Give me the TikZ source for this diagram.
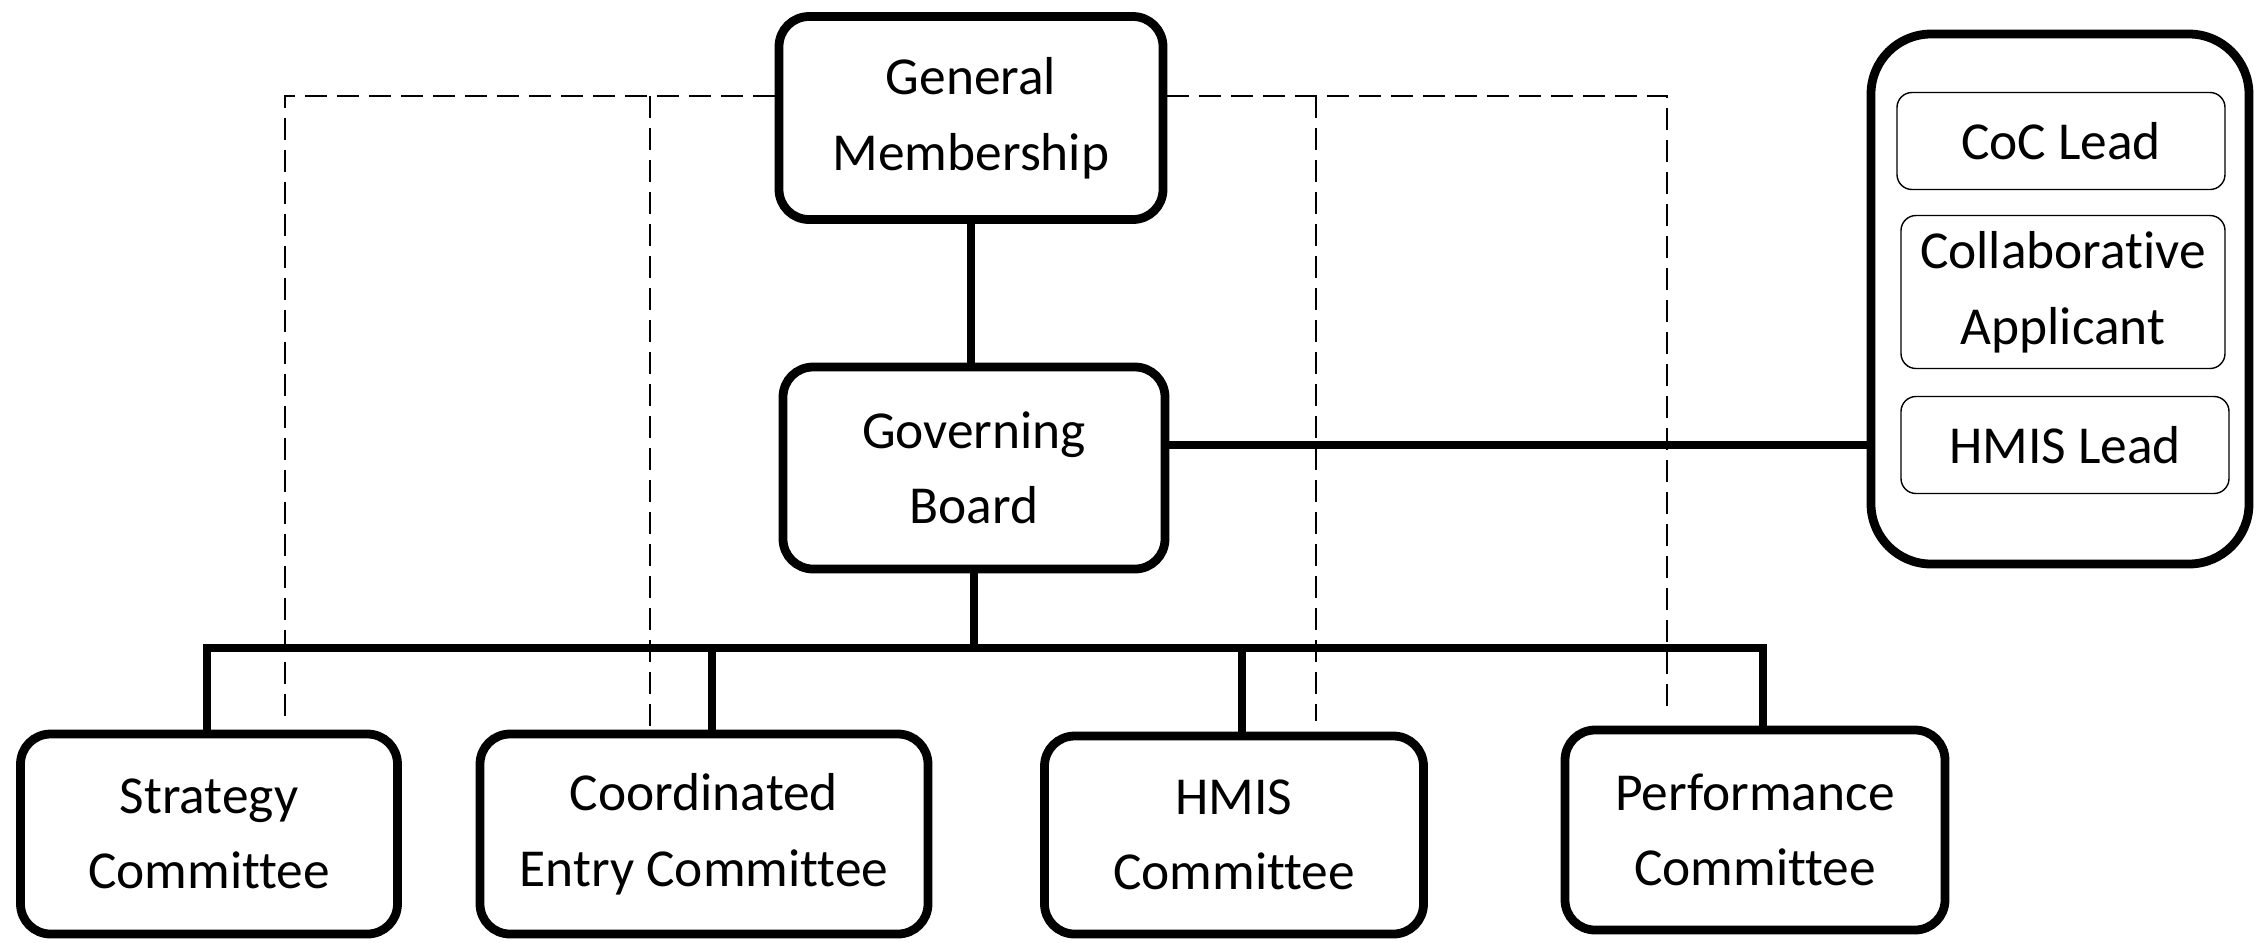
\documentclass[tikz,border=0pt]{standalone}
\usepackage{fontspec}
\setmainfont{Carlito}[Ligatures=NoCommon]
\usetikzlibrary{positioning}
\tikzset{
    x=0.1mm, y=-0.1mm, % one unit is one pixel of the original chart, y runs downwards
    every node/.style={font=\fontsize{15.2}{21.5}\selectfont, align=center},
    boxnode/.style={draw, line width=2.5pt, rounded corners=3mm, inner sep=0pt}, % the thick boxes
    rolenode/.style={draw, line width=0.4pt, rounded corners=1.5mm, inner sep=0pt}, % the thin boxes inside the right group
    link/.style={line width=2.5pt}, % solid connectors
    dashline/.style={dashed, dash pattern=on 2.2mm off 1mm, line width=0.8pt}, % dashed connectors
    }
\begin{document}
\begin{tikzpicture}
\useasboundingbox (0,0) rectangle (2257,942);

\node[boxnode, minimum width=38.4mm, minimum height=20.3mm] (GM) at (971,118) {General\\Membership};
\node[boxnode, minimum width=38.2mm, minimum height=20.2mm] (GB) at (974,468) {Governing\\Board};
\node[boxnode, minimum width=37.7mm, minimum height=20mm] (SC) at (209,834) {Strategy\\Committee};
\node[boxnode, minimum width=44.8mm, minimum height=20mm] (CE) at (704,834) {Coordinated\\Entry Committee};
\node[boxnode, minimum width=37.9mm, minimum height=19.8mm] (HC) at (1234,835) {HMIS\\Committee};
\node[boxnode, minimum width=38mm, minimum height=20mm] (PC) at (1755,830) {Performance\\Committee};
\node[boxnode, rounded corners=6mm, minimum width=37.8mm, minimum height=53mm] (roles) at (2060,299) {};
\node[rolenode, minimum width=32.8mm, minimum height=9.7mm] (CL) at (2061,141) {CoC Lead};
\node[rolenode, minimum width=32.4mm, minimum height=15.3mm] (CA) at (2063,292) {Collaborative\\Applicant};
\node[rolenode, minimum width=32.8mm, minimum height=9.7mm] (HL) at (2065,445) {HMIS Lead};

\coordinate (bus) at (0,648);
\coordinate (side) at (0,445);
\draw[link] (GM.south) -- (GM.south |- GB.north);
\draw[link] (GB.south) -- (GB.south |- bus);
\draw[link] (GB.east |- side) -- (roles.west |- side);
\draw[link] ([xshift=-0.2mm]SC.north) |- ([xshift=0.8mm]PC.north |- bus) -- ([xshift=0.8mm]PC.north);
\draw[link] ([xshift=0.8mm]CE.north) -- ([xshift=0.8mm]CE.north |- bus);
\draw[link] ([xshift=0.8mm]HC.north) -- ([xshift=0.8mm]HC.north |- bus);

\coordinate (dl1) at (285,96);
\coordinate (dl2) at (650,96);
\coordinate (dr1) at (1316,96);
\coordinate (dr2) at (1667,96);
\draw[dashline, shorten >=1.2mm] (GM.west |- dl1) -| (dl1 |- SC.north);
\draw[dashline, shorten >=0.4mm] (dl2) -- (dl2 |- CE.north);
\draw[dashline, shorten >=1.1mm] (GM.east |- dr2) -| (dr2 |- PC.north);
\draw[dashline, shorten >=1.1mm] (dr1) -- (dr1 |- HC.north);

\end{tikzpicture}
\end{document}
